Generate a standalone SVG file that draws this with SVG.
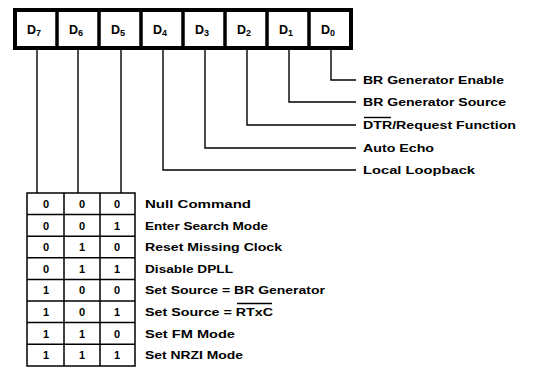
<svg xmlns="http://www.w3.org/2000/svg" width="534" height="368" viewBox="0 0 534 368">
<style>
.t{font-family:"Liberation Sans",Arial,sans-serif;font-weight:bold;font-size:11.5px;fill:#000}
.r{font-family:"Liberation Sans",Arial,sans-serif;font-weight:bold;font-size:12.5px;fill:#000}
.d{font-family:"Liberation Sans",Arial,sans-serif;font-weight:bold;font-size:11px;fill:#000;text-anchor:middle}
.reg{fill:#fff;stroke:#000;stroke-width:4}
.div{stroke:#000;stroke-width:3.5}
.ln{fill:none;stroke:#000;stroke-width:1.4}
.tb{fill:none;stroke:#000;stroke-width:1.5}
</style>
<rect width="534" height="368" fill="#fff"/>
<g id="register">
<rect class="reg" x="15" y="10" width="336" height="38"/>
<line class="div" x1="57" y1="10" x2="57" y2="48"/>
<line class="div" x1="99" y1="10" x2="99" y2="48"/>
<line class="div" x1="141" y1="10" x2="141" y2="48"/>
<line class="div" x1="183" y1="10" x2="183" y2="48"/>
<line class="div" x1="225" y1="10" x2="225" y2="48"/>
<line class="div" x1="267" y1="10" x2="267" y2="48"/>
<line class="div" x1="309" y1="10" x2="309" y2="48"/>
<text class="r" x="27" y="34">D<tspan font-size="9" dy="2">7</tspan></text>
<text class="r" x="69" y="34">D<tspan font-size="9" dy="2">6</tspan></text>
<text class="r" x="111" y="34">D<tspan font-size="9" dy="2">5</tspan></text>
<text class="r" x="153" y="34">D<tspan font-size="9" dy="2">4</tspan></text>
<text class="r" x="195" y="34">D<tspan font-size="9" dy="2">3</tspan></text>
<text class="r" x="237" y="34">D<tspan font-size="9" dy="2">2</tspan></text>
<text class="r" x="279" y="34">D<tspan font-size="9" dy="2">1</tspan></text>
<text class="r" x="321" y="34">D<tspan font-size="9" dy="2">0</tspan></text>
</g>
<g id="connectors">
<polyline class="ln" points="331,50 331,80 356,80"/>
<polyline class="ln" points="289,50 289,102 356,102"/>
<polyline class="ln" points="247,50 247,125 356,125"/>
<polyline class="ln" points="205,50 205,148 356,148"/>
<polyline class="ln" points="163,50 163,170 356,170"/>
<line class="ln" x1="37" y1="50" x2="37" y2="193"/>
<line class="ln" x1="78" y1="50" x2="78" y2="193"/>
<line class="ln" x1="121" y1="50" x2="121" y2="193"/>
</g>
<g id="bit-labels">
<text class="t" x="363" y="84" textLength="141" lengthAdjust="spacingAndGlyphs">BR Generator Enable</text>
<text class="t" x="363" y="106" textLength="143" lengthAdjust="spacingAndGlyphs">BR Generator Source</text>
<text class="t" x="363" y="129" textLength="153" lengthAdjust="spacingAndGlyphs">DTR/Request Function</text>
<line class="ln" x1="364" y1="117.5" x2="391" y2="117.5"/>
<text class="t" x="363" y="152" textLength="71" lengthAdjust="spacingAndGlyphs">Auto Echo</text>
<text class="t" x="363" y="174" textLength="112" lengthAdjust="spacingAndGlyphs">Local Loopback</text>
</g>
<g id="table">
<rect class="tb" x="27" y="193" width="108" height="173"/>
<line class="tb" x1="64" y1="193" x2="64" y2="366"/>
<line class="tb" x1="100" y1="193" x2="100" y2="366"/>
<line class="tb" x1="27" y1="214.6" x2="135" y2="214.6"/>
<line class="tb" x1="27" y1="236.2" x2="135" y2="236.2"/>
<line class="tb" x1="27" y1="257.8" x2="135" y2="257.8"/>
<line class="tb" x1="27" y1="279.4" x2="135" y2="279.4"/>
<line class="tb" x1="27" y1="301" x2="135" y2="301"/>
<line class="tb" x1="27" y1="322.6" x2="135" y2="322.6"/>
<line class="tb" x1="27" y1="344.2" x2="135" y2="344.2"/>
<text class="d" x="46" y="208">0</text><text class="d" x="82" y="208">0</text><text class="d" x="117" y="208">0</text>
<text class="d" x="46" y="229.6">0</text><text class="d" x="82" y="229.6">0</text><text class="d" x="117" y="229.6">1</text>
<text class="d" x="46" y="251.2">0</text><text class="d" x="82" y="251.2">1</text><text class="d" x="117" y="251.2">0</text>
<text class="d" x="46" y="272.8">0</text><text class="d" x="82" y="272.8">1</text><text class="d" x="117" y="272.8">1</text>
<text class="d" x="46" y="294.4">1</text><text class="d" x="82" y="294.4">0</text><text class="d" x="117" y="294.4">0</text>
<text class="d" x="46" y="316">1</text><text class="d" x="82" y="316">0</text><text class="d" x="117" y="316">1</text>
<text class="d" x="46" y="337.6">1</text><text class="d" x="82" y="337.6">1</text><text class="d" x="117" y="337.6">0</text>
<text class="d" x="46" y="359.2">1</text><text class="d" x="82" y="359.2">1</text><text class="d" x="117" y="359.2">1</text>
</g>
<g id="mode-labels">
<text class="t" x="145" y="208" textLength="106" lengthAdjust="spacingAndGlyphs">Null Command</text>
<text class="t" x="145" y="229.6" textLength="123" lengthAdjust="spacingAndGlyphs">Enter Search Mode</text>
<text class="t" x="145" y="251.2" textLength="137" lengthAdjust="spacingAndGlyphs">Reset Missing Clock</text>
<text class="t" x="145" y="272.8" textLength="88" lengthAdjust="spacingAndGlyphs">Disable DPLL</text>
<text class="t" x="145" y="294.4" textLength="180" lengthAdjust="spacingAndGlyphs">Set Source = BR Generator</text>
<text class="t" x="145" y="316" textLength="128" lengthAdjust="spacingAndGlyphs">Set Source = RTxC</text>
<line class="ln" x1="237" y1="303.5" x2="272" y2="303.5" stroke-width="1"/>
<text class="t" x="145" y="337.6" textLength="90" lengthAdjust="spacingAndGlyphs">Set FM Mode</text>
<text class="t" x="145" y="359.2" textLength="98" lengthAdjust="spacingAndGlyphs">Set NRZI Mode</text>
</g>
</svg>
